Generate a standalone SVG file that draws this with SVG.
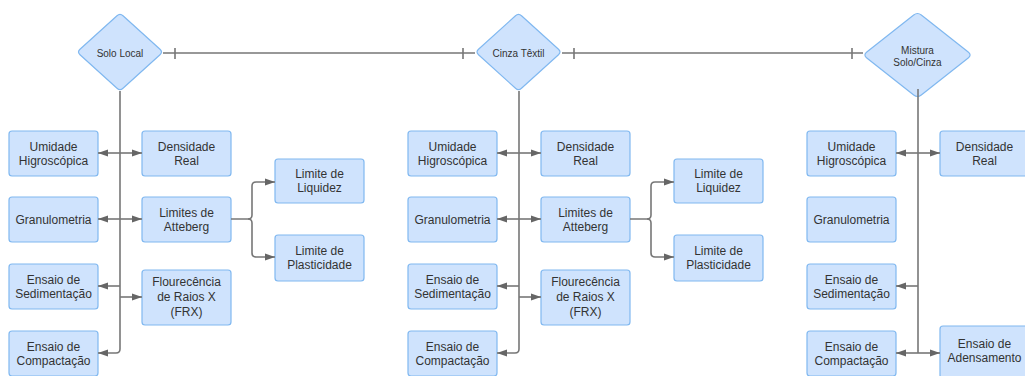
<svg xmlns="http://www.w3.org/2000/svg" width="1025" height="376" viewBox="0 0 1025 376">
<style>
.box{fill:#cfe3fd;stroke:#80b8f0;stroke-width:1.2}
.dia{fill:#cfe3fd;stroke:#80b8f0;stroke-width:1.2}
.t{font-family:"Liberation Sans",Arial,sans-serif;font-size:12px;fill:#333;text-anchor:middle}
.td{font-family:"Liberation Sans",Arial,sans-serif;font-size:10px;fill:#333;text-anchor:middle}
.ln{fill:none;stroke:#777;stroke-width:1.6}
.arr{fill:none;stroke:#777;stroke-width:1.6;marker-end:url(#ah)}
</style>
<defs>
<marker id="ah" markerUnits="userSpaceOnUse" markerWidth="11" markerHeight="8" refX="10" refY="4" orient="auto">
<path d="M0,0.5 L10,4 L0,7.5 z" fill="#666"/>
</marker>
</defs>
<rect width="1025" height="376" fill="#fff"/>

<!-- Section 1: Solo Local -->
<g id="solo-local"><path class="dia" d="M123,15.7 L160,49.3 Q163,52 160,54.7 L123,88.3 Q120,91 117,88.3 L80,54.7 Q77,52 80,49.3 L117,15.7 Q120,13 123,15.7Z"/><text class="td" x="120" y="56.5">Solo Local</text></g>
<g id="s1-umidade"><rect class="box" x="9" y="131" width="89" height="45" rx="3"/><text class="t" x="53.5" y="150.5">Umidade</text><text class="t" x="53.5" y="164.5">Higroscópica</text></g>
<g id="s1-densidade"><rect class="box" x="142" y="131" width="89" height="45" rx="3"/><text class="t" x="186.5" y="150.5">Densidade</text><text class="t" x="186.5" y="164.5">Real</text></g>
<g id="s1-granulometria"><rect class="box" x="9" y="197" width="89" height="45" rx="3"/><text class="t" x="53.5" y="223.5">Granulometria</text></g>
<g id="s1-atteberg"><rect class="box" x="142" y="197" width="89" height="45" rx="3"/><text class="t" x="186.5" y="216.5">Limites de</text><text class="t" x="186.5" y="230.5">Atteberg</text></g>
<g id="s1-sedimentacao"><rect class="box" x="9" y="264" width="89" height="45" rx="3"/><text class="t" x="53.5" y="283.5">Ensaio de</text><text class="t" x="53.5" y="297.5">Sedimentação</text></g>
<g id="s1-frx"><rect class="box" x="142" y="270" width="89" height="55" rx="3"/><text class="t" x="186.5" y="285.5">Flourecência</text><text class="t" x="186.5" y="300.5">de Raios X</text><text class="t" x="186.5" y="315.5">(FRX)</text></g>
<g id="s1-compactacao"><rect class="box" x="9" y="331" width="89" height="45" rx="3"/><text class="t" x="53.5" y="350.5">Ensaio de</text><text class="t" x="53.5" y="364.5">Compactação</text></g>
<g id="s1-liquidez"><rect class="box" x="275" y="159" width="89" height="44" rx="3"/><text class="t" x="319.5" y="178">Limite de</text><text class="t" x="319.5" y="192">Liquidez</text></g>
<g id="s1-plasticidade"><rect class="box" x="275" y="235" width="89" height="46" rx="3"/><text class="t" x="319.5" y="255">Limite de</text><text class="t" x="319.5" y="269">Plasticidade</text></g>

<!-- Section 2: Cinza Têxtil -->
<g id="cinza-textil"><path class="dia" d="M521.5,15.7 L558.5,49.3 Q561.5,52 558.5,54.7 L521.5,88.3 Q518.5,91 515.5,88.3 L478.5,54.7 Q475.5,52 478.5,49.3 L515.5,15.7 Q518.5,13 521.5,15.7Z"/><text class="td" x="518.5" y="56.5">Cinza Têxtil</text></g>
<g id="s2-umidade" transform="translate(399,0)"><rect class="box" x="9" y="131" width="89" height="45" rx="3"/><text class="t" x="53.5" y="150.5">Umidade</text><text class="t" x="53.5" y="164.5">Higroscópica</text></g>
<g id="s2-densidade" transform="translate(399,0)"><rect class="box" x="142" y="131" width="89" height="45" rx="3"/><text class="t" x="186.5" y="150.5">Densidade</text><text class="t" x="186.5" y="164.5">Real</text></g>
<g id="s2-granulometria" transform="translate(399,0)"><rect class="box" x="9" y="197" width="89" height="45" rx="3"/><text class="t" x="53.5" y="223.5">Granulometria</text></g>
<g id="s2-atteberg" transform="translate(399,0)"><rect class="box" x="142" y="197" width="89" height="45" rx="3"/><text class="t" x="186.5" y="216.5">Limites de</text><text class="t" x="186.5" y="230.5">Atteberg</text></g>
<g id="s2-sedimentacao" transform="translate(399,0)"><rect class="box" x="9" y="264" width="89" height="45" rx="3"/><text class="t" x="53.5" y="283.5">Ensaio de</text><text class="t" x="53.5" y="297.5">Sedimentação</text></g>
<g id="s2-frx" transform="translate(399,0)"><rect class="box" x="142" y="270" width="89" height="55" rx="3"/><text class="t" x="186.5" y="285.5">Flourecência</text><text class="t" x="186.5" y="300.5">de Raios X</text><text class="t" x="186.5" y="315.5">(FRX)</text></g>
<g id="s2-compactacao" transform="translate(399,0)"><rect class="box" x="9" y="331" width="89" height="45" rx="3"/><text class="t" x="53.5" y="350.5">Ensaio de</text><text class="t" x="53.5" y="364.5">Compactação</text></g>
<g id="s2-liquidez" transform="translate(399,0)"><rect class="box" x="275" y="159" width="89" height="44" rx="3"/><text class="t" x="319.5" y="178">Limite de</text><text class="t" x="319.5" y="192">Liquidez</text></g>
<g id="s2-plasticidade" transform="translate(399,0)"><rect class="box" x="275" y="235" width="89" height="46" rx="3"/><text class="t" x="319.5" y="255">Limite de</text><text class="t" x="319.5" y="269">Plasticidade</text></g>

<!-- Section 3: Mistura Solo/Cinza -->
<g id="mistura"><path class="dia" d="M921.3,15 L968.2,52 Q972,55 968.2,58 L921.3,95 Q917.5,98 913.7,95 L866.8,58 Q863,55 866.8,52 L913.7,15 Q917.5,12 921.3,15Z"/><text class="td" x="917.5" y="53.5">Mistura</text><text class="td" x="917.5" y="65.5">Solo/Cinza</text></g>
<g id="s3-umidade" transform="translate(798,0)"><rect class="box" x="9" y="131" width="89" height="45" rx="3"/><text class="t" x="53.5" y="150.5">Umidade</text><text class="t" x="53.5" y="164.5">Higroscópica</text></g>
<g id="s3-densidade" transform="translate(798,0)"><rect class="box" x="142" y="131" width="89" height="45" rx="3"/><text class="t" x="186.5" y="150.5">Densidade</text><text class="t" x="186.5" y="164.5">Real</text></g>
<g id="s3-granulometria" transform="translate(798,0)"><rect class="box" x="9" y="197" width="89" height="45" rx="3"/><text class="t" x="53.5" y="223.5">Granulometria</text></g>
<g id="s3-sedimentacao" transform="translate(798,0)"><rect class="box" x="9" y="264" width="89" height="45" rx="3"/><text class="t" x="53.5" y="283.5">Ensaio de</text><text class="t" x="53.5" y="297.5">Sedimentação</text></g>
<g id="s3-compactacao" transform="translate(798,0)"><rect class="box" x="9" y="331" width="89" height="45" rx="3"/><text class="t" x="53.5" y="350.5">Ensaio de</text><text class="t" x="53.5" y="364.5">Compactação</text></g>
<g id="s3-adensamento" transform="translate(798,0)"><rect class="box" x="142" y="326" width="89" height="52" rx="3"/><text class="t" x="186.5" y="348">Ensaio de</text><text class="t" x="186.5" y="362">Adensamento</text></g>

<g id="connectors">
<!-- top links -->
<path class="ln" d="M163,53 H475 M175,48 V59 M463,48 V59"/>
<path class="ln" d="M562,53 H863 M574,48 V59 M852,48 V59"/>
<!-- section 1 -->
<path class="arr" d="M120,91 V349 Q120,353 116,353 H98"/>
<path class="arr" d="M120,153 H98"/><path class="arr" d="M120,153 H142"/>
<path class="arr" d="M120,219 H98"/><path class="arr" d="M120,219 H142"/>
<path class="arr" d="M120,286 H98"/><path class="arr" d="M120,297 H142"/>
<path class="arr" d="M231,219 H248 Q252,219 252,215 V186 Q252,182 256,182 H275"/>
<path class="arr" d="M248,219 Q252,219 252,223 V253 Q252,257 256,257 H275"/>
<!-- section 2 -->
<g transform="translate(399,0)">
<path class="arr" d="M120,91 V349 Q120,353 116,353 H98"/>
<path class="arr" d="M120,153 H98"/><path class="arr" d="M120,153 H142"/>
<path class="arr" d="M120,219 H98"/><path class="arr" d="M120,219 H142"/>
<path class="arr" d="M120,286 H98"/><path class="arr" d="M120,297 H142"/>
<path class="arr" d="M231,219 H248 Q252,219 252,215 V186 Q252,182 256,182 H275"/>
<path class="arr" d="M248,219 Q252,219 252,223 V253 Q252,257 256,257 H275"/>
</g>
<!-- section 3 -->
<path class="ln" d="M918,89 V353"/>
<path class="arr" d="M918,153 H896"/><path class="arr" d="M918,153 H940"/>
<path class="arr" d="M918,286 H896"/>
<path class="arr" d="M918,353 H896"/><path class="arr" d="M918,353 H940"/>
</g>
</svg>
